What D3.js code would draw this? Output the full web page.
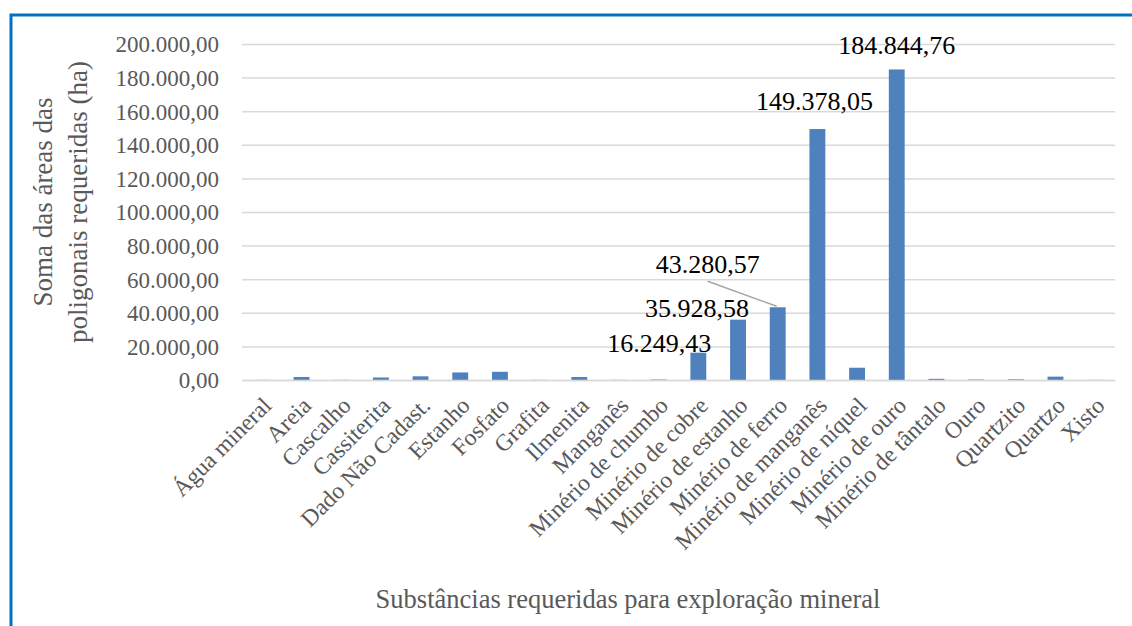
<!DOCTYPE html>
<html>
<head>
<meta charset="utf-8">
<script src="https://cdn.jsdelivr.net/npm/d3@7"></script>
<style>
  html, body { margin: 0; padding: 0; background: #ffffff; }
  svg { display: block; }
  svg text { font-family: "Liberation Serif", "Times New Roman", serif; }
</style>
</head>
<body>
<svg id="chart" width="1132" height="626"></svg>
<script>
// Substances requested for mineral exploration
const categories = [
  "Água mineral", "Areia", "Cascalho", "Cassiterita", "Dado Não Cadast.",
  "Estanho", "Fosfato", "Grafita", "Ilmenita", "Manganês",
  "Minério de chumbo", "Minério de cobre", "Minério de estanho", "Minério de ferro",
  "Minério de manganês", "Minério de níquel", "Minério de ouro", "Minério de tântalo",
  "Ouro", "Quartzito", "Quartzo", "Xisto"
];

// Sum of requested polygon areas (ha)
const areas = [
  60, 1800, 80, 1500, 2200,
  4500, 4900, 60, 1800, 60,
  300, 16249.43, 35928.58, 43280.57,
  149378.05, 7300, 184844.76, 700,
  300, 400, 2000, 60
];

// Categories whose value is printed next to the bar
const labelled = ["Minério de cobre", "Minério de estanho", "Minério de ferro",
                  "Minério de manganês", "Minério de ouro"];

const yTicks = [0, 20000, 40000, 60000, 80000, 100000, 120000, 140000, 160000, 180000, 200000];

const yTitleLines = ["Soma das áreas das", "poligonais requeridas (ha)"];
const xTitle = "Substâncias requeridas para exploração mineral";

const SERIF = "Liberation Serif, Times New Roman, serif";

const ptBR = d3.formatLocale({ decimal: ",", thousands: ".", grouping: [3], currency: ["", ""] });
const fmt = ptBR.format(",.2f");

const svg = d3.select("#chart");
const plot = { left: 242, right: 1115, top: 44, bottom: 380 };

const x = d3.scaleBand()
  .domain(categories)
  .range([plot.left, plot.right])
  .paddingInner(0.6)
  .paddingOuter(0.3);

const y = d3.scaleLinear()
  .domain([0, 200000])
  .range([plot.bottom, plot.top]);

// Frame lines on the left and top edges
svg.append("path")
  .attr("d", "M11,626 V15 H1132")
  .attr("fill", "none")
  .attr("stroke", "#0070c0")
  .attr("stroke-width", 3);

// Horizontal gridlines with value labels
const yAxis = d3.axisLeft(y)
  .tickValues(yTicks)
  .tickSize(-(plot.right - plot.left))
  .tickPadding(23)
  .tickFormat(fmt);

const gy = svg.append("g")
  .attr("transform", `translate(${plot.left},0)`)
  .call(yAxis)
  .attr("font-family", SERIF);
gy.select(".domain").remove();
gy.selectAll(".tick line").attr("stroke", "#d9d9d9").attr("stroke-width", 1.5);
gy.selectAll(".tick text")
  .attr("fill", "#595959")
  .style("font-size", "23px")
  .attr("dy", "0.34em");

// Bars
svg.append("g").selectAll("rect")
  .data(categories.map((c, i) => ({ c, v: areas[i] })))
  .join("rect")
  .attr("x", d => x(d.c))
  .attr("y", d => y(d.v))
  .attr("width", x.bandwidth())
  .attr("height", d => y(0) - y(d.v))
  .attr("fill", "#4f81bd");

// Category axis
const xAxis = d3.axisBottom(x).tickSize(0).tickPadding(0);
const gx = svg.append("g")
  .attr("transform", `translate(0,${plot.bottom})`)
  .call(xAxis)
  .attr("font-family", SERIF);
gx.select(".domain").attr("stroke", "#d9d9d9").attr("stroke-width", 1.5);
gx.selectAll(".tick text")
  .attr("fill", "#595959")
  .style("font-size", "23.5px")
  .attr("text-anchor", "end")
  .attr("x", 0).attr("y", 0).attr("dy", 0)
  .attr("transform", "translate(11,27) rotate(-45)");

// Value labels (placement offsets relative to the bar top)
const labelOffsets = {
  "Minério de cobre":    { dx: -39, dy: -1 },
  "Minério de estanho":  { dx: -41, dy: -3 },
  "Minério de ferro":    { dx: -70, dy: -34 },
  "Minério de manganês": { dx: -3,  dy: -19 },
  "Minério de ouro":     { dx: 0,   dy: -15 }
};

const labelData = labelled.map(c => {
  const v = areas[categories.indexOf(c)];
  const cx = x(c) + x.bandwidth() / 2;
  const o = labelOffsets[c];
  return { c, v, cx, top: y(v), tx: cx + o.dx, ty: y(v) + o.dy };
});

// Leader line for the label moved away from its bar
labelData.filter(d => d.c === "Minério de ferro").forEach(d => {
  svg.append("line")
    .attr("x1", d.tx).attr("y1", d.ty + 8)
    .attr("x2", d.cx - 1).attr("y2", d.top - 1)
    .attr("stroke", "#a6a6a6")
    .attr("stroke-width", 1.5);
});

svg.append("g").selectAll("text")
  .data(labelData)
  .join("text")
  .attr("x", d => d.tx)
  .attr("y", d => d.ty)
  .attr("text-anchor", "middle")
  .attr("fill", "#000000")
  .attr("font-family", SERIF)
  .style("font-size", "26px")
  .text(d => fmt(d.v));

// Axis titles
const yt = svg.append("text")
  .attr("transform", "translate(43,202) rotate(-90)")
  .attr("text-anchor", "middle")
  .attr("fill", "#595959")
  .attr("font-family", SERIF)
  .style("font-size", "27px");
yTitleLines.forEach((t, i) => {
  yt.append("tspan")
    .attr("x", 0)
    .attr("dy", i === 0 ? "0.34em" : 35)
    .text(t);
});

svg.append("text")
  .attr("x", 628)
  .attr("y", 608)
  .attr("text-anchor", "middle")
  .attr("fill", "#595959")
  .attr("font-family", SERIF)
  .style("font-size", "26.5px")
  .text(xTitle);
</script>
</body>
</html>
